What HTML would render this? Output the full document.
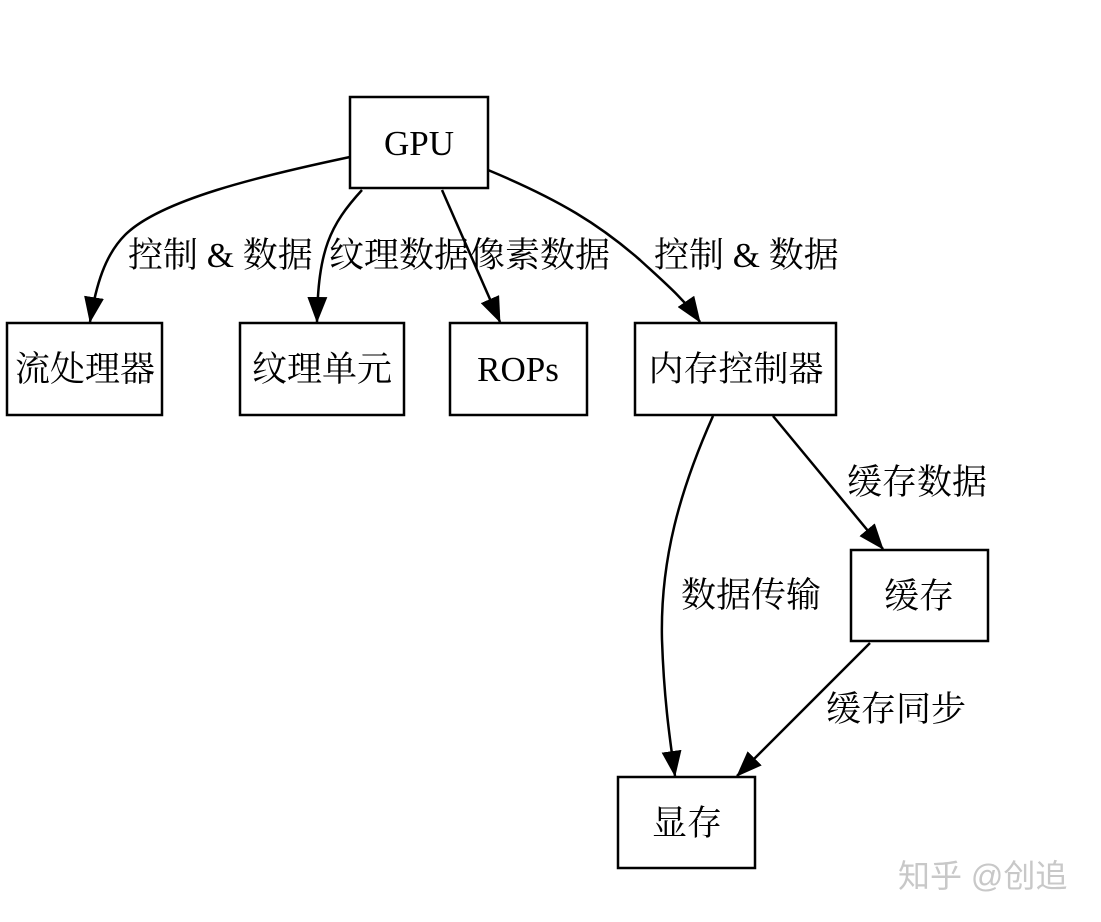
<!DOCTYPE html>
<html><head><meta charset="utf-8"><style>
html,body{margin:0;padding:0;background:#fff;}
svg{display:block;}
text{font-family:"Liberation Serif","Noto Serif CJK SC","Noto Sans CJK SC",serif;font-size:35px;fill:#000;}
</style></head><body>
<svg width="1101" height="922" viewBox="0 0 1101 922" xmlns="http://www.w3.org/2000/svg">
<defs><marker id="a" markerWidth="26" markerHeight="20" refX="25" refY="10" orient="auto" markerUnits="userSpaceOnUse"><path d="M0,0 L26,10 L0,20 z" fill="#000"/></marker></defs>
<g fill="none" stroke="#000" stroke-width="2.5">
<rect x="350" y="97" width="138" height="91"/>
<rect x="7" y="323" width="155" height="92"/>
<rect x="240" y="323" width="164" height="92"/>
<rect x="450" y="323" width="137" height="92"/>
<rect x="635" y="323" width="201" height="92"/>
<rect x="851" y="550" width="137" height="91"/>
<rect x="618" y="777" width="137" height="91"/>
<path d="M350,157 C260,176 160,200 125,235 C105,255 96,285 90,322" marker-end="url(#a)"/>
<path d="M362,190 C330,225 318,250 317,322" marker-end="url(#a)"/>
<path d="M442,190 L500,322" marker-end="url(#a)"/>
<path d="M488,170 C560,200 600,225 640,260 C665,283 685,300 700,322" marker-end="url(#a)"/>
<path d="M713,416 C680,490 660,560 662,640 C664,700 670,740 675,776" marker-end="url(#a)"/>
<path d="M773,416 L883,549" marker-end="url(#a)"/>
<path d="M870,643 L737,776" marker-end="url(#a)"/>
</g>
<text x="419" y="155" text-anchor="middle">GPU</text>
<text x="85" y="381" text-anchor="middle">流处理器</text>
<text x="322" y="381" text-anchor="middle">纹理单元</text>
<text x="518" y="381" text-anchor="middle">ROPs</text>
<text x="736" y="381" text-anchor="middle">内存控制器</text>
<text x="919" y="608" text-anchor="middle">缓存</text>
<text x="687" y="835" text-anchor="middle">显存</text>
<text x="128" y="267">控制 &amp; 数据</text>
<text x="329" y="267">纹理数据</text>
<text x="470" y="267">像素数据</text>
<text x="654" y="267">控制 &amp; 数据</text>
<text x="847" y="494">缓存数据</text>
<text x="681" y="607">数据传输</text>
<text x="826" y="721">缓存同步</text>
<text x="898" y="887" style="fill:#c8c8c8;font-family:'Liberation Sans','Noto Sans CJK SC',sans-serif;font-size:32px;">知乎 @创追</text>
</svg>
</body></html>
